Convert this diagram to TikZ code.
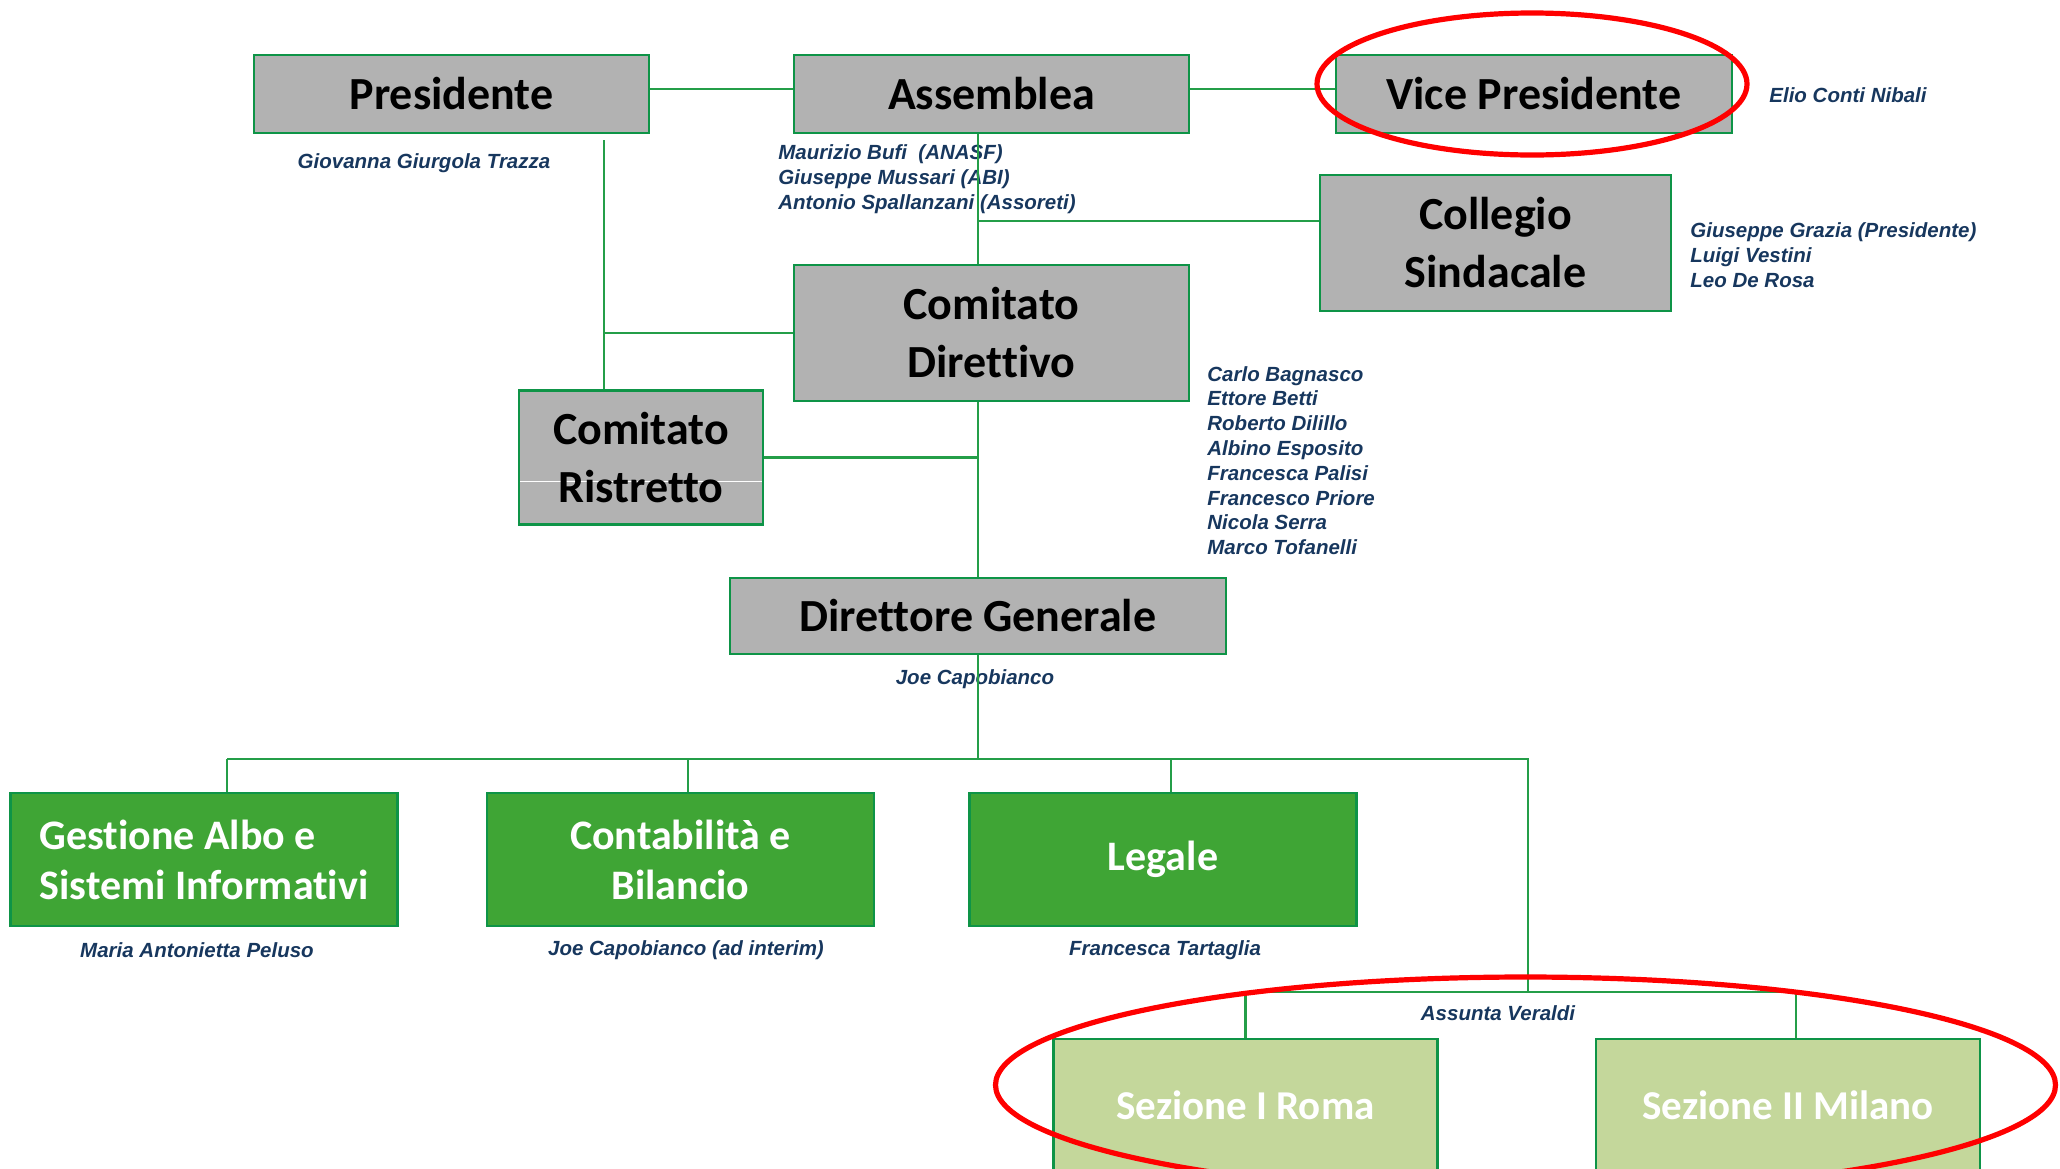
\documentclass[tikz,border=0pt]{standalone}
\usepackage{fontspec}
\setmainfont{Carlito}[Ligatures={NoCommon}]
\newfontfamily\namefont{Liberation Sans}
\definecolor{boxgray}{HTML}{B2B2B2}
\definecolor{boxline}{HTML}{0E9447}
\definecolor{linegreen}{HTML}{249E48}
\definecolor{unitgreen}{HTML}{3FA535}
\definecolor{sectgreen}{HTML}{C4D79B}
\definecolor{namecol}{HTML}{17375E}
\begin{document}
\begin{tikzpicture}[x=0.5pt,y=-0.5pt,
	organ/.style={draw=boxline,line width=1.2pt,fill=boxgray,align=center,inner sep=0pt,
		font=\bfseries\fontsize{23}{29}\selectfont},
	unit/.style={draw=boxline,line width=1.2pt,fill=unitgreen,text=white,inner sep=0pt,
		minimum width=193.5pt,minimum height=66.5pt,font=\bfseries\fontsize{21}{25}\selectfont},
	sect/.style={draw=boxline,line width=1.2pt,fill=sectgreen,text=white,inner sep=0pt,
		minimum width=192pt,minimum height=66pt,font=\bfseries\fontsize{20.5}{25}\selectfont},
	who/.style={text=namecol,align=left,inner sep=0pt,
		font=\namefont\bfseries\itshape\fontsize{10.25}{12.4}\selectfont},
	wire/.style={draw=linegreen,line width=1.2pt},
	ring/.style={draw=red,line width=2.6pt}]
		\clip (0,0) rectangle (2060,1168);
		%top row
		\node[organ,minimum width=197.5pt,minimum height=39pt] (pres) at (451.5,94) {Presidente};
		\node[organ,minimum width=197.5pt,minimum height=39pt] (ass) at (991.5,94) {Assemblea};
		\node[organ,minimum width=198pt,minimum height=39pt] (vp) at (1534,94) {Vice Presidente};
		\node[who,anchor=center] (presname) at (424,163) {Giovanna Giurgola Trazza};
		\node[who,anchor=west] (assnames) at (778,179) {Maurizio Bufi\ \ (ANASF)\\Giuseppe Mussari (ABI)\\Antonio Spallanzani (Assoreti)};
		\node[who,anchor=west] (vpname) at (1769,95) {Elio Conti Nibali};
		%collegio
		\node[organ,minimum width=175.5pt,minimum height=68pt] (cs) at (1495.5,243) {Collegio\\Sindacale};
		\node[who,anchor=west] (csnames) at (1690,255) {Giuseppe Grazia (Presidente)\\Luigi Vestini\\Leo De Rosa};
		%comitati
		\node[organ,minimum width=197.5pt,minimum height=68pt] (cd) at (991.5,333) {Comitato\\Direttivo};
		\node[who,anchor=west] (cdnames) at (1207,460.5) {Carlo Bagnasco\\Ettore Betti\\Roberto Dilillo\\Albino Esposito\\Francesca Palisi\\Francesco Priore\\Nicola Serra\\Marco Tofanelli};
		\node[organ,minimum width=122pt,minimum height=67pt,
			path picture={\draw[white,line width=0.5pt]
				([yshift=-11.75pt]path picture bounding box.west) -- ([yshift=-11.75pt]path picture bounding box.east);}]
			(cr) at (641,457.5) {Comitato\\Ristretto};
		%direttore
		\node[organ,minimum width=248pt,minimum height=38pt] (dg) at (978,616) {Direttore Generale};
		\node[who,anchor=center] (dgname) at (975,679) {Joe Capobianco};
		%uffici
		\node[unit,align=left] (gest) at (204,859.5) {Gestione Albo e\\Sistemi Informativi};
		\node[unit,align=center] (cont) at (680.5,859.5) {Contabilità e\\Bilancio};
		\node[unit] (leg) at (1163,859.5) {Legale};
		\node[who,anchor=center] (gestname) at (197,950) {Maria Antonietta Peluso};
		\node[who,anchor=center] (contname) at (686,950) {Joe Capobianco (ad interim)};
		\node[who,anchor=center] (legname) at (1165,950) {Francesca Tartaglia};
		%sezioni
		\node[sect] (roma) at (1245.5,1105) {Sezione I Roma};
		\node[sect] (mil) at (1788,1105) {Sezione II Milano};
		\node[who,anchor=center] (secname) at (1498,1013) {Assunta Veraldi};
		%junctions
		\coordinate (jp) at (604,140);
		\coordinate (jcs) at (979,221);
		\coordinate (b0) at (227,759);
		\coordinate (b1) at (688,759);
		\coordinate (b2) at (1171,759);
		\coordinate (b3) at (1528,759);
		\coordinate (s0) at (1528,992);
		\coordinate (s2) at (1796,992);
		%lines
		\draw[wire] ([yshift=2.5pt]pres.east) -- ([yshift=2.5pt]ass.west);
		\draw[wire] ([yshift=2.5pt]ass.east) -- ([yshift=2.5pt]vp.west);
		\draw[wire] (ass.south -| dg.north) -- (cd.north -| dg.north);
		\draw[wire] (jcs) -- (jcs -| cs.west);
		\draw[wire] (jp) -- (jp |- cr.north);
		\draw[wire] (cd.west -| jp) -- (cd.west);
		\draw[wire] (cr.east) -- (cr.east -| dg.north);
		\draw[wire] (cd.south -| dg.north) -- (dg.north);
		\draw[wire] (dg.south) -- (dg.south |- b0);
		\draw[wire] (b0) -- (b3) -- (s0);
		\draw[wire] (b0) -- (b0 |- gest.north);
		\draw[wire] (b1) -- (b1 |- cont.north);
		\draw[wire] (b2) -- (b2 |- leg.north);
		\draw[wire] (s0 -| roma.north) -- (s2);
		\draw[wire] (s0 -| roma.north) -- (roma.north);
		\draw[wire] (s2) -- (s2 |- mil.north);
		%red rings
		\draw[ring] (1532,84) ellipse [x radius=107.5pt,y radius=35.5pt];
		\draw[ring] (1525.5,1085) ellipse [x radius=265pt,y radius=54pt];
\end{tikzpicture}
\end{document}
